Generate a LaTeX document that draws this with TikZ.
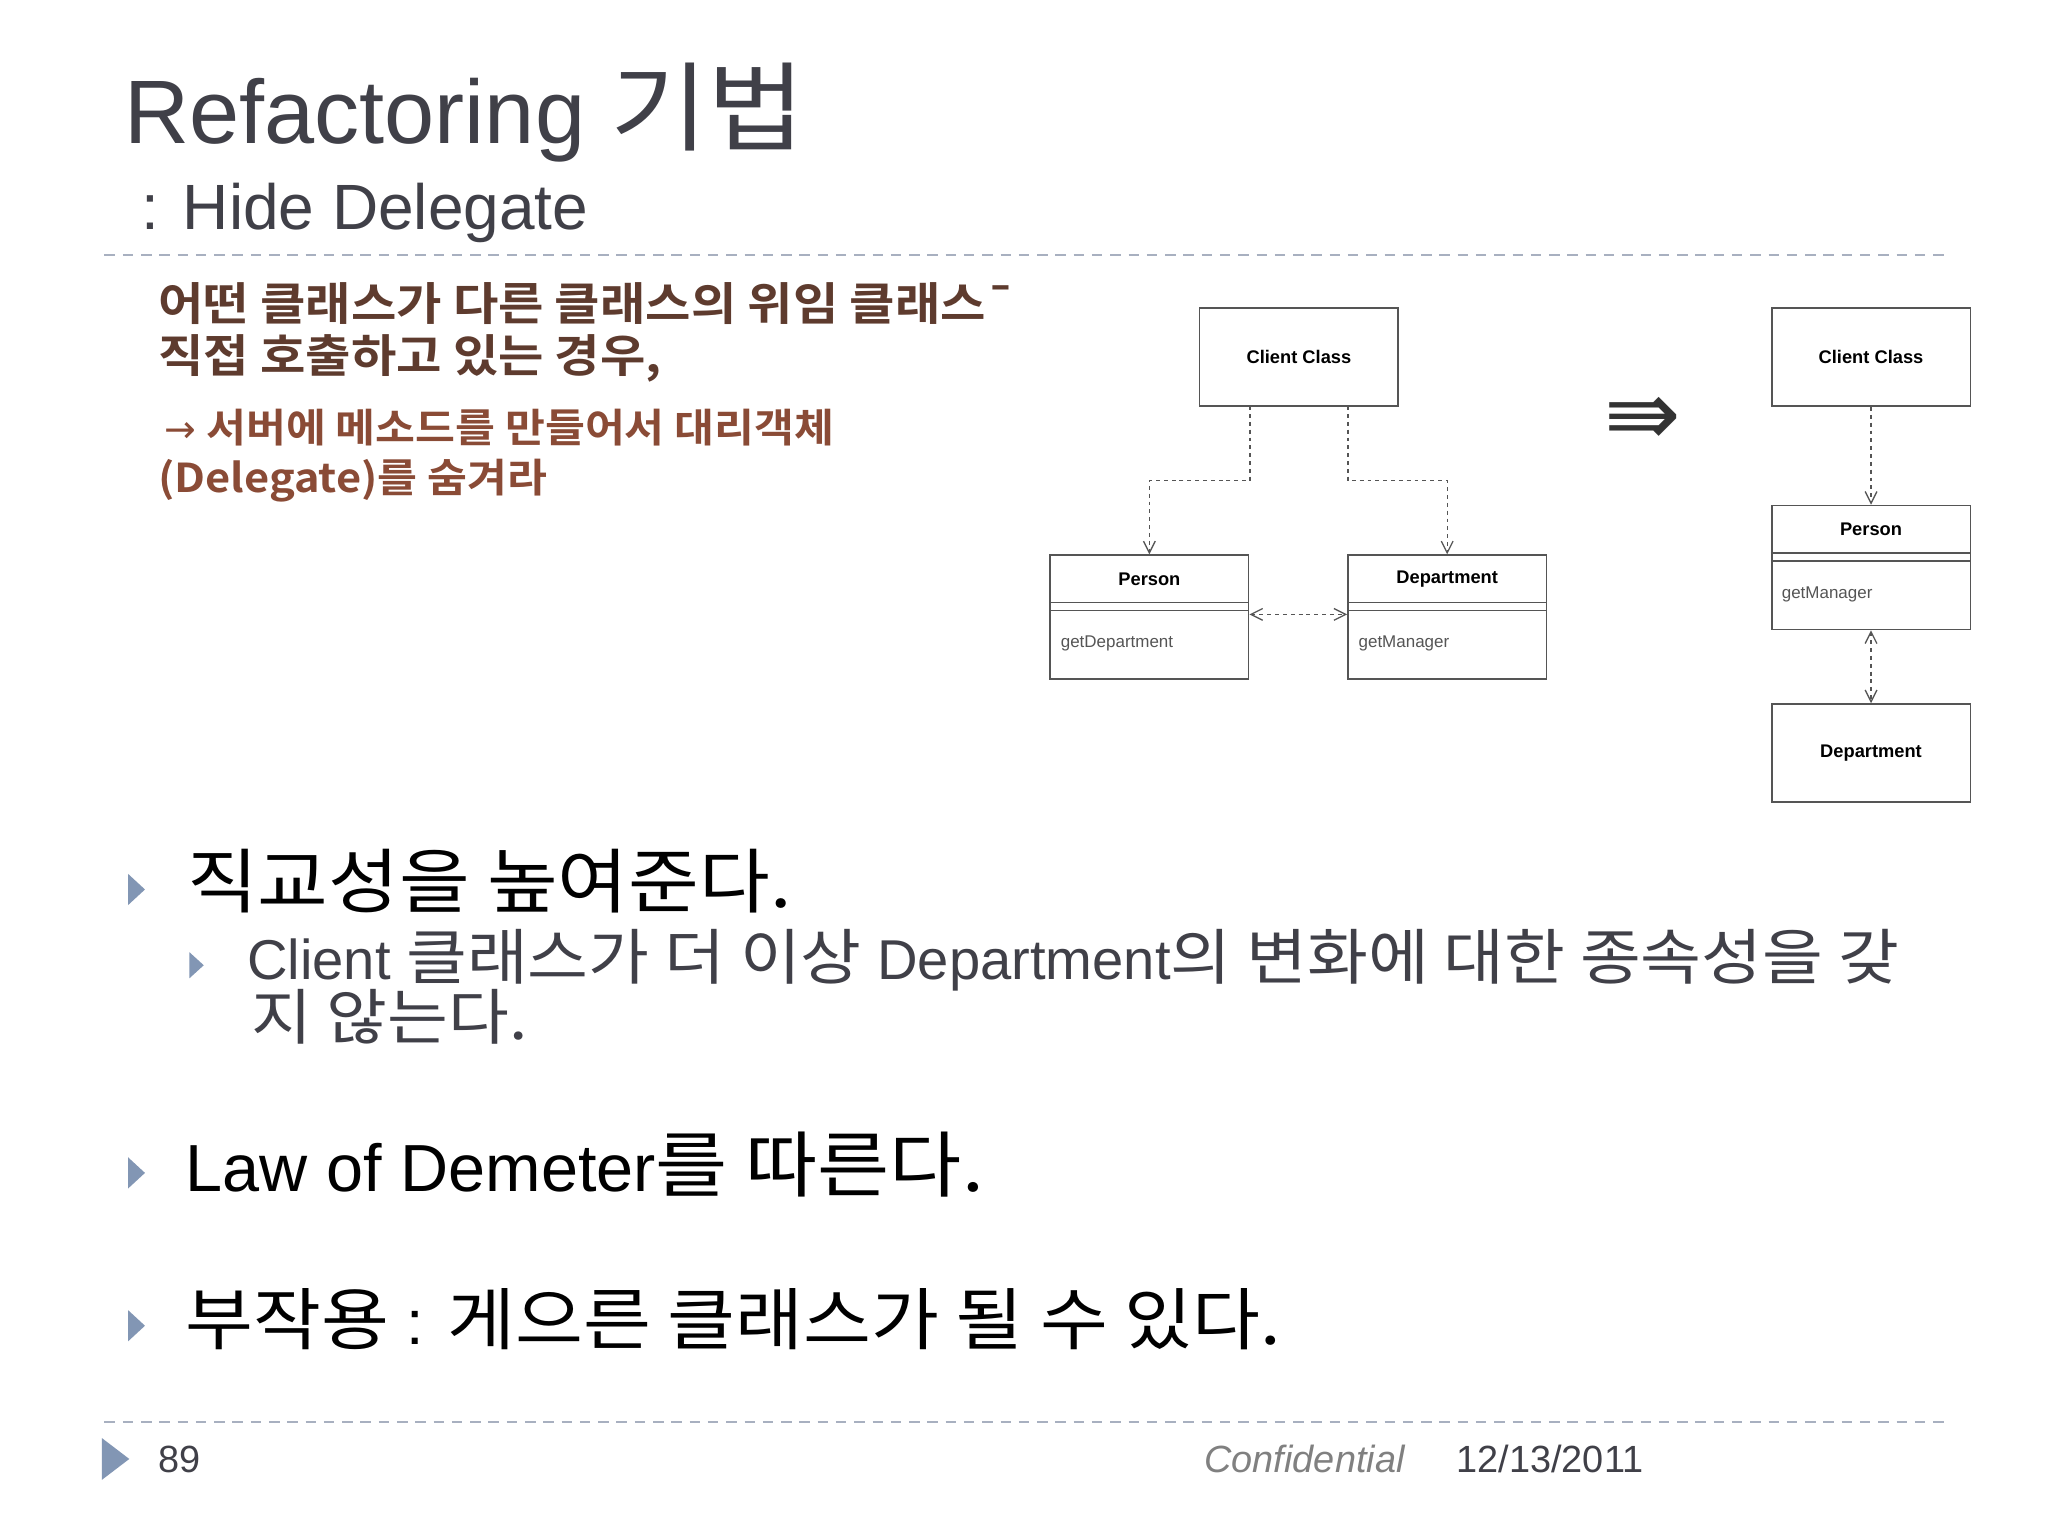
\documentclass[tikz,border=0pt]{standalone}
\usepackage{fontspec}
\setmainfont{Liberation Sans}
\newfontfamily\kr[Scale=1.08,FakeStretch=1.09]{Noto Sans CJK KR}
\newfontfamily\krb[Scale=1.05,FakeStretch=1.09]{Noto Sans CJK KR Bold}
\newfontfamily\dv{DejaVu Sans}
\usetikzlibrary{arrows.meta}
\definecolor{titlec}{HTML}{404048}
\definecolor{dashc}{HTML}{A8B0C0}
\definecolor{bulc}{HTML}{8296B4}
\definecolor{brownA}{HTML}{5E3B2E}
\definecolor{brownB}{HTML}{8A4B36}
\definecolor{boxc}{HTML}{555555}
\begin{document}
\begin{tikzpicture}[x=1pt,y=-1pt,
  txt/.style={anchor=base west,inner sep=0pt},
  umlbox/.style={draw=boxc,line width=1.2pt,minimum width=152pt,inner sep=0pt},
  dep/.style={draw=boxc,line width=1pt,dashed,-{Straight Barb[length=9pt,width=9pt]}},
  bul/.style={fill=bulc,draw=none}]
\useasboundingbox (0,0) rectangle (1568,1176);
\fill[white] (0,0) rectangle (1568,1176);
% title
\node[txt,text=titlec,font=\fontsize{69}{80}\selectfont] (t1) at (95,110) {Refactoring {\kr 기법}};
\node[txt,text=titlec,font=\fontsize{49}{56}\selectfont] (t2) at (108,176) {: Hide Delegate};
\draw[dashc,line width=1.5pt,dash pattern=on 8pt off 6pt] (80,195) coordinate (d1) -- (1490,195) coordinate (d2);
% brown text
\node[txt,text=brownA,font=\krb\fontsize{33}{40}\selectfont] (b1) at (121,245) {어떤 클래스가 다른 클래스의 위임 클래스¯};
\node[txt,text=brownA,font=\krb\fontsize{33}{40}\selectfont] (b2) at (121,285) {직접 호출하고 있는 경우,};
\node[txt,text=brownB,font=\krb\fontsize{29}{36}\selectfont] (b3) at (126,339) {{\dv →} 서버에 메소드를 만들어서 대리객체};
\node[txt,text=brownB,font=\krb\fontsize{29}{36}\selectfont] (b4) at (121,377) {(Delegate)를 숨겨라};
% diagram left
\node[umlbox,minimum height=75pt,font=\bfseries\fontsize{14}{16}\selectfont] (cc1) at (994.5,273.5) {Client Class};
\node[umlbox,minimum height=95pt] (p1) at (880,472.5) {};
\node[umlbox,minimum height=95pt] (dp1) at (1108,472.5) {};
\foreach \n in {p1,dp1}{
  \draw[boxc,line width=1.2pt] ([yshift=-37pt]\n.north west) -- ([yshift=-37pt]\n.north east);
  \draw[boxc,line width=1.2pt] ([yshift=-43pt]\n.north west) -- ([yshift=-43pt]\n.north east);}
\node[font=\bfseries\fontsize{14}{16}\selectfont,anchor=center] (p1t) at ([yshift=-19pt]p1.north) {Person};
\node[font=\bfseries\fontsize{14}{16}\selectfont,anchor=center] (dp1t) at ([yshift=-19pt]dp1.north) {Department};
\node[txt,font=\fontsize{13}{15}\selectfont,text=boxc] (p1m) at (812,496) {getDepartment};
\node[txt,font=\fontsize{13}{15}\selectfont,text=boxc] (dp1m) at (1040,496) {getManager};
\coordinate (c1) at (957,311);
\coordinate (c2) at (1032,311);
\draw[dep] (c1) -- (957,368) -- (880,368) -- (p1.north);
\draw[dep] (c2) -- (1032,368) -- (1108,368) -- (dp1.north);
\draw[boxc,line width=1pt,dashed,{Straight Barb[length=9pt,width=9pt]}-{Straight Barb[length=9pt,width=9pt]}] ([yshift=-46pt]p1.north east) -- ([yshift=-46pt]dp1.north west);
% implies arrow
\node[font=\dv\fontsize{70}{72}\selectfont,text=black!80] (imp) at (1258,323) {⇛};
% diagram right
\node[umlbox,minimum height=75pt,font=\bfseries\fontsize{14}{16}\selectfont] (cc2) at (1432.5,273.5) {Client Class};
\node[umlbox,minimum height=95pt] (p2) at (1432.5,434.5) {};
\draw[boxc,line width=1.2pt] ([yshift=-37pt]p2.north west) -- ([yshift=-37pt]p2.north east);
\draw[boxc,line width=1.2pt] ([yshift=-43pt]p2.north west) -- ([yshift=-43pt]p2.north east);
\node[font=\bfseries\fontsize{14}{16}\selectfont] (p2t) at ([yshift=-19pt]p2.north) {Person};
\node[txt,font=\fontsize{13}{15}\selectfont,text=boxc] (p2m) at (1364,458) {getManager};
\node[umlbox,minimum height=75pt,font=\bfseries\fontsize{14}{16}\selectfont] (dp2) at (1432.5,576.5) {Department};
\draw[dep] (cc2.south) -- (p2.north);
\draw[boxc,line width=1pt,dashed,{Straight Barb[length=9pt,width=9pt]}-{Straight Barb[length=9pt,width=9pt]}] (p2.south) -- (dp2.north);
% bullets
\foreach \y/\nm in {681/u1,898/u2,1015/u3}
  \fill[bul] (98,\y-12) -- (111,\y) -- (98,\y+12) -- cycle;
\fill[bul] (145,729) -- (156,739) -- (145,749) -- cycle;
\node[txt,font=\kr\fontsize{50}{60}\selectfont] (l1) at (143,695) {직교성을 높여준다.};
\node[txt,font=\fontsize{43}{50}\selectfont,text=titlec] (l2) at (189,750) {Client {\kr 클래스가 더 이상} Department{\kr 의 변화에 대한 종속성을 갖}};
\node[txt,font=\kr\fontsize{43}{50}\selectfont,text=titlec] (l3) at (192,796) {지 않는다.};
\node[txt,font=\fontsize{51}{58}\selectfont] (l4) at (142,912) {Law of Demeter{\kr 를 따른다.}};
\node[txt,font=\fontsize{48}{58}\selectfont] (l5) at (142,1029) {{\kr 부작용} : {\kr 게으른 클래스가 될 수 있다.}};
% footer
\draw[dashc,line width=1.5pt,dash pattern=on 8pt off 6pt] (80,1089) coordinate (f1) -- (1490,1089) coordinate (f2);
\fill[bulc] (78,1101) -- (99,1117) -- (78,1133) -- cycle;
\node[txt,font=\fontsize{29}{34}\selectfont,text=titlec] (pg) at (121,1127) {89};
\node[txt,font=\itshape\fontsize{29}{34}\selectfont,text=gray] (cf) at (922,1127) {Confidential};
\node[txt,font=\fontsize{29}{34}\selectfont,text=titlec] (dt) at (1115,1127) {12/13/2011};
\end{tikzpicture}
\end{document}
